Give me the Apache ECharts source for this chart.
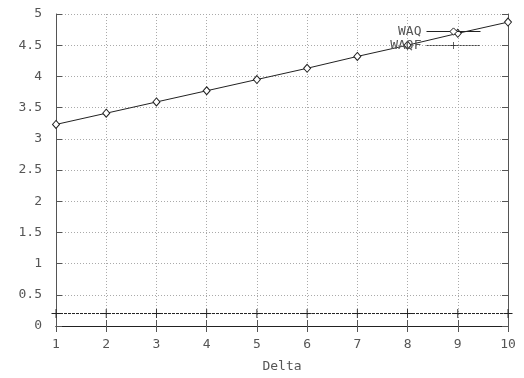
<!DOCTYPE html>
<html>
<head>
<meta charset="utf-8">
<script src="https://cdn.jsdelivr.net/npm/echarts@6/dist/echarts.min.js"></script>
<style>
  html, body { margin: 0; padding: 0; background: #fff; }
  #chart { width: 524px; height: 378px; }
</style>
</head>
<body>
<div id="chart"></div>
<script>
var deltas = [1, 2, 3, 4, 5, 6, 7, 8, 9, 10];
var waq = [3.23, 3.41, 3.59, 3.77, 3.95, 4.13, 4.32, 4.50, 4.69, 4.87];
var waqf = [0.2, 0.2, 0.2, 0.2, 0.2, 0.2, 0.2, 0.2, 0.2, 0.2];

var font = 'DejaVu Sans Mono';
var plus = 'path://M4.5,0h1v10h-1zM0,4.5h10v1h-10z';

function pairs(ys) {
    return deltas.map(function (d, i) { return [d, ys[i]]; });
}

var myChart = echarts.init(document.getElementById('chart'));
var option = {
    backgroundColor: '#fff',
    animation: false,
    grid: { left: 56, right: 16, top: 14, bottom: 51 },
    legend: {
        orient: 'vertical',
        right: 38,
        top: 20,
        align: 'right',
        itemWidth: 54,
        itemHeight: 9,
        itemGap: 1,
        textStyle: { fontFamily: font, fontSize: 13, color: '#555' },
        data: [
            {
                name: 'WAQ',
                itemStyle: { color: '#fff', borderColor: '#222', borderWidth: 1 },
                lineStyle: { color: '#222', width: 1 }
            },
            {
                name: 'WAQF',
                itemStyle: { color: '#222', borderWidth: 0 },
                lineStyle: { color: '#444', width: 1, type: [2, 1] }
            }
        ]
    },
    xAxis: [
        {
            type: 'value',
            min: 1,
            max: 10,
            interval: 1,
            name: 'Delta',
            nameLocation: 'middle',
            nameGap: 34,
            nameTextStyle: { fontFamily: font, fontSize: 13, color: '#555' },
            axisLine: { lineStyle: { color: '#555', width: 1 } },
            axisTick: { inside: true, length: 6, lineStyle: { color: '#555' } },
            axisLabel: { fontFamily: font, fontSize: 13, color: '#555', margin: 12 },
            splitLine: { show: true, lineStyle: { type: [1, 2], color: '#aaa' } }
        },
        {
            type: 'value',
            position: 'top',
            min: 1,
            max: 10,
            interval: 1,
            axisLine: { show: true, lineStyle: { color: '#222' } },
            axisTick: { show: true, inside: true, length: 6, lineStyle: { color: '#555' } },
            axisLabel: { show: false },
            splitLine: { show: false }
        }
    ],
    yAxis: [
        {
            type: 'value',
            min: 0,
            max: 5,
            interval: 0.5,
            axisLine: { show: true, lineStyle: { color: '#555' } },
            axisTick: { show: true, inside: true, length: 6, lineStyle: { color: '#555' } },
            axisLabel: { fontFamily: font, fontSize: 13, color: '#555', margin: 14 },
            splitLine: { show: true, lineStyle: { type: [1, 2], color: '#aaa' } }
        },
        {
            type: 'value',
            position: 'right',
            min: 0,
            max: 5,
            interval: 0.5,
            axisLine: { show: true, lineStyle: { color: '#555' } },
            axisTick: { show: true, inside: true, length: 6, lineStyle: { color: '#555' } },
            axisLabel: { show: false },
            splitLine: { show: false }
        }
    ],
    series: [
        {
            name: 'WAQ',
            type: 'line',
            data: pairs(waq),
            symbol: 'diamond',
            symbolSize: [7, 8],
            showAllSymbol: true,
            lineStyle: { color: '#222', width: 1 },
            itemStyle: { color: '#fff', borderColor: '#222', borderWidth: 1 }
        },
        {
            name: 'WAQF',
            type: 'line',
            data: pairs(waqf),
            symbol: plus,
            symbolSize: 9,
            showAllSymbol: true,
            lineStyle: { color: '#222', width: 1, type: [3, 1] },
            itemStyle: { color: '#222' }
        }
    ]
};
option && myChart.setOption(option);
</script>
</body>
</html>
